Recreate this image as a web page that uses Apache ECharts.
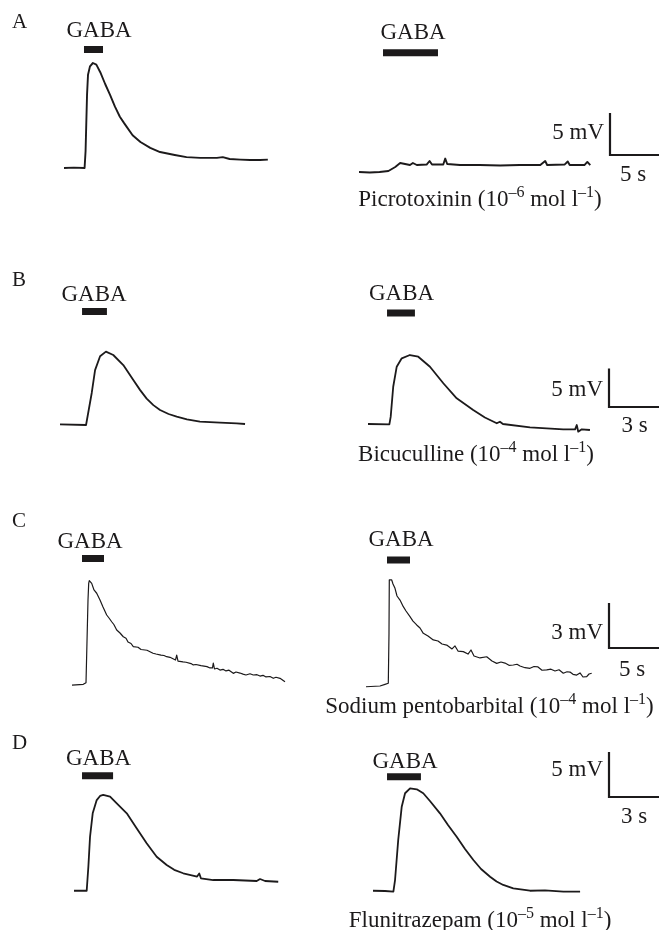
<!DOCTYPE html>
<html><head><meta charset="utf-8">
<script src="https://cdn.jsdelivr.net/npm/echarts@6/dist/echarts.min.js"></script>
<style>html,body{margin:0;padding:0;background:#fff}#c{width:659px;height:930px}</style>
</head><body><div id="c"></div>
<script>
// ---------- DATA (time in s, membrane potential change in mV) ----------
const panelLabels = ['A', 'B', 'C', 'D'];
const drugNames = ['Picrotoxinin', 'Bicuculline', 'Sodium pentobarbital', 'Flunitrazepam'];
const drugExponents = ['–6', '–4', '–4', '–5'];
const scaleBarMV = [5, 5, 3, 5];
const scaleBarS = [5, 3, 5, 3];

// A: control / picrotoxinin
const aCtrlT = [0,1,2.1,2.2,2.35,2.45,2.65,2.95,3.3,3.7,4.2,4.7,5.2,5.7,6.1,6.4,7.0,7.8,8.8,9.8,11.3,12.5,13.9,15.6,16.2,16.4,16.9,18.0,19.0,20.0,20.8];
const aCtrlV = [0,0.05,0,2,8.7,11.1,12.1,12.5,12.3,11.4,10.0,8.7,7.3,6.1,5.4,4.9,3.9,3.1,2.4,1.9,1.55,1.3,1.2,1.2,1.3,1.15,1.07,1.0,0.95,0.95,1.0];
const aDrugT = [0,1.1,2.1,3.0,3.7,4.2,4.7,5.2,5.5,5.9,6.9,7.2,7.45,8.6,8.8,9.0,10.3,12.3,14.4,16.4,18.5,19.0,19.2,21.0,21.3,21.5,23.0,23.3,23.6];
const aDrugV = [0,-0.06,0,0.12,0.6,1.07,0.95,0.83,1.07,0.83,0.89,1.31,0.89,0.89,1.6,0.95,0.83,0.83,0.77,0.83,0.83,1.31,0.83,0.9,1.25,0.83,0.83,1.2,0.83];
const aGabaOn = [2.04, 2.45];
const aGabaOff = [3.98, 8.06];

// B: control / bicuculline
const bCtrlT = [0,1.56,1.63,1.9,2.1,2.4,2.75,3.19,3.79,4.39,4.8,5.19,5.59,5.99,6.5,6.99,7.6,8.38,9.58,10.58,11.08];
const bCtrlV = [-0.04,-0.13,0.09,4.03,7.0,8.8,9.4,8.96,7.66,5.71,4.4,3.3,2.45,1.82,1.3,0.95,0.6,0.3,0.17,0.09,0];
const bDrugT = [0,1.28,1.36,1.51,1.72,2.02,2.51,3.01,3.71,4.51,5.31,6.3,7.0,7.71,7.9,8.08,9.7,11.69,12.4,12.5,12.59,12.8,13.29];
const bDrugV = [0,-0.04,0.95,4.84,7.44,8.53,8.96,8.74,7.44,5.29,3.34,1.82,0.85,0.09,0.3,0,-0.43,-0.69,-0.69,-0.13,-1.0,-0.69,-0.78];
const bGabaOn = [1.32, 1.14];
const bGabaOff = [2.81, 2.81];

// C: control / sodium pentobarbital
const cCtrlT = [0,1.13,1.4,1.53,1.6,1.67,1.73,1.97,2.2,2.47,2.8,3.1,3.47,3.7,3.97,4.2,4.47,4.8,5.13,5.4,5.6,5.9,6.13,6.6,6.9,7.1,7.5,7.8,8.1,8.4,8.9,9.2,9.47,9.8,10.0,10.35,10.47,10.6,11.1,11.4,11.6,11.9,12.13,12.4,12.6,12.9,13.1,13.5,13.8,14.05,14.13,14.25,14.5,14.8,15.1,15.4,15.7,16.13,16.4,16.8,17.1,17.4,17.8,18.13,18.5,18.8,19.1,19.4,19.8,20.13,20.4,20.6,20.8,21.0,21.3];
const cCtrlV = [-0.07,-0.02,0.09,0.15,5.6,6.71,6.89,6.71,6.27,6.05,5.6,5.13,4.6,4.4,4.15,3.95,3.6,3.4,3.15,3.05,2.8,2.7,2.49,2.45,2.3,2.27,2.25,2.15,2.05,2.0,1.93,1.9,1.82,1.78,1.67,1.6,1.93,1.53,1.47,1.45,1.33,1.36,1.27,1.3,1.2,1.22,1.13,1.16,1.07,1.07,1.4,1.0,1.05,0.93,0.98,0.87,0.92,0.71,0.8,0.73,0.66,0.6,0.68,0.6,0.62,0.53,0.58,0.47,0.5,0.38,0.45,0.33,0.38,0.27,0.15];
const cDrugT = [0,1.4,1.9,2.23,2.3,2.33,2.4,2.57,2.7,2.9,3.1,3.4,3.73,4.0,4.4,4.7,5.07,5.4,5.73,6.2,6.73,7.2,7.6,8.07,8.6,8.9,9.2,9.73,10.2,10.5,10.8,11.4,12.07,12.6,13.07,13.5,13.9,14.3,14.73,15.1,15.4,15.9,16.4,16.8,17.2,17.6,18.07,18.5,18.9,19.3,19.73,20.1,20.4,20.7,21.07,21.4,21.7,22.07,22.3,22.57];
const cDrugV = [-0.05,0,0.11,0.18,3.53,7.07,7.18,7.07,6.8,6.51,6.0,5.73,5.29,5.0,4.62,4.33,4.07,3.87,3.51,3.33,3.07,3.0,2.8,2.73,2.47,2.67,2.33,2.29,2.13,2.4,2.0,1.87,1.95,1.67,1.51,1.6,1.53,1.38,1.4,1.45,1.33,1.22,1.18,1.3,1.27,1.05,1.07,1.12,1.0,1.08,0.85,0.95,0.93,0.78,0.73,0.87,0.6,0.62,0.8,0.85];
const cGabaOn = [1.0, 2.1];
const cGabaOff = [3.2, 4.4];

// D: control / flunitrazepam
const dCtrlT = [0,0.76,0.8,0.86,0.96,1.12,1.36,1.56,1.75,2.16,2.56,3.16,3.75,4.35,4.95,5.55,6.0,6.54,7.37,7.5,7.6,8.34,9.54,10.94,11.14,11.24,11.44,12.23];
const dCtrlV = [0.03,0.03,0.11,2.7,6.03,8.63,10.1,10.56,10.67,10.48,9.74,8.63,6.97,5.3,3.81,2.89,2.35,1.97,1.61,1.94,1.41,1.22,1.22,1.11,1.33,1.52,1.11,1.03];
const dDrugT = [0,0.72,1.22,1.32,1.51,1.72,1.92,2.22,2.62,3.01,3.41,4.01,4.49,5.01,5.51,6.01,6.47,7.01,7.4,7.8,8.4,9.4,10.3,11.4,12.4];
const dDrugV = [0.03,0,-0.08,1.22,5.67,9.37,10.86,11.41,11.3,10.86,10.0,8.63,7.33,6.03,4.67,3.44,2.44,1.59,1.05,0.67,0.3,0.03,0.06,-0.08,-0.08];
const dGabaOn = [0.48, 0.84];
const dGabaOff = [2.34, 2.87];

// ---------- LAYOUT (pixels) ----------
const rows = [
  {ctrl:[aCtrlT,aCtrlV], drug:[aDrugT,aDrugV], on:aGabaOn, off:aGabaOff, pxS:9.8, pxMV:8.4, xMax:24,
   x0:[64,359], y0:[168,172], barLvl:[14.1,14.2], lw:1.9,
   scaleXY:[610,155], lab:[12,22], gabaTxt:[[99,31],[413,33]], mvTxt:133, sTxt:[633,174.5], drugTxt:[480,198]},
  {ctrl:[bCtrlT,bCtrlV], drug:[bDrugT,bDrugV], on:bGabaOn, off:bGabaOff, pxS:16.7, pxMV:7.7, xMax:14,
   x0:[60,368], y0:[424,424], barLvl:[14.6,14.4], lw:1.8,
   scaleXY:[609,407], lab:[12,280], gabaTxt:[[94,294.5],[401.5,293.5]], mvTxt:389.5, sTxt:[634.5,425.5], drugTxt:[476,453]},
  {ctrl:[cCtrlT,cCtrlV], drug:[cDrugT,cDrugV], on:cGabaOn, off:cGabaOff, pxS:10, pxMV:15, xMax:23,
   x0:[72,366], y0:[684,686], barLvl:[8.37,8.4], lw:1.2,
   scaleXY:[609,648], lab:[12,521.5], gabaTxt:[[90,541.5],[401,540]], mvTxt:632.5, sTxt:[632,670], drugTxt:[489.5,705]},
  {ctrl:[dCtrlT,dCtrlV], drug:[dDrugT,dDrugV], on:dGabaOn, off:dGabaOff, pxS:16.7, pxMV:9, xMax:13,
   x0:[74,373], y0:[891,891], barLvl:[12.8,12.7], lw:1.8,
   scaleXY:[609,797], lab:[12,743.5], gabaTxt:[[98.5,758.5],[405,761.5]], mvTxt:770, sTxt:[634,816.5], drugTxt:[480,919]}
];

const FONT = '"Liberation Serif","Times New Roman",serif';
const FS = 23;
const INK = '#1c1a1b';
const zip = (t, v) => t.map((x, i) => [x, v[i]]);

const grids = [], xAxes = [], yAxes = [], series = [], graphics = [];
function addGrid(left, top, w, h, xmin, xmax, ymin, ymax) {
  const idx = grids.length;
  grids.push({left, top, width: w, height: h, containLabel: false, show: false});
  xAxes.push({type:'value', gridIndex: idx, min: xmin, max: xmax, show: false});
  yAxes.push({type:'value', gridIndex: idx, min: ymin, max: ymax, show: false});
  return idx;
}

rows.forEach((r, ri) => {
  const YMIN = -3, YMAX = 16, XMAX = r.xMax;
  [r.ctrl, r.drug].forEach((tr, k) => {
    const gi = addGrid(r.x0[k], r.y0[k] - YMAX * r.pxMV, XMAX * r.pxS, (YMAX - YMIN) * r.pxMV, 0, XMAX, YMIN, YMAX);
    series.push({type:'line', xAxisIndex: gi, yAxisIndex: gi, data: zip(tr[0], tr[1]), showSymbol:false, symbol:'none',
      clip:false, animation:false, lineStyle:{color: INK, width: r.lw, join:'round'}});
    series.push({type:'line', xAxisIndex: gi, yAxisIndex: gi, data: [[r.on[k], r.barLvl[k]], [r.off[k], r.barLvl[k]]],
      showSymbol:false, symbol:'none', clip:false, animation:false, lineStyle:{color: INK, width: 7, cap:'butt'}});
    graphics.push({type:'text', x: r.gabaTxt[k][0], y: r.gabaTxt[k][1],
      style:{text:'GABA', font: FS + 'px ' + FONT, fill: INK, align:'center', verticalAlign:'middle'}});
  });
  // scale bar
  const s = scaleBarS[ri], mv = scaleBarMV[ri];
  const gi = addGrid(r.scaleXY[0], r.scaleXY[1] - mv * r.pxMV, s * r.pxS, mv * r.pxMV, 0, s, 0, mv);
  series.push({type:'line', xAxisIndex: gi, yAxisIndex: gi, data: [[0, mv], [0, 0], [s, 0]], showSymbol:false, symbol:'none',
    clip:false, animation:false, lineStyle:{color: INK, width: 2.2, join:'miter'}});
  graphics.push({type:'text', x: r.scaleXY[0] - 6, y: r.mvTxt,
    style:{text: mv + ' mV', font: FS + 'px ' + FONT, fill: INK, align:'right', verticalAlign:'middle'}});
  graphics.push({type:'text', x: r.sTxt[0], y: r.sTxt[1],
    style:{text: s + ' s', font: FS + 'px ' + FONT, fill: INK, align:'center', verticalAlign:'middle'}});
  graphics.push({type:'text', x: r.lab[0], y: r.lab[1],
    style:{text: panelLabels[ri], font: (FS - 2) + 'px ' + FONT, fill: INK, align:'left', verticalAlign:'middle'}});
  graphics.push({type:'text', x: r.drugTxt[0], y: r.drugTxt[1],
    style:{text: '{n|' + drugNames[ri] + ' (10}{s|' + drugExponents[ri] + '}{n| mol l}{s|–1}{n|)}',
      align:'center', verticalAlign:'middle', fill: INK,
      rich:{ n:{fontFamily: FONT, fontSize: FS, lineHeight: 26, verticalAlign:'bottom', fill: INK},
             s:{fontFamily: FONT, fontSize: 16, lineHeight: 16, verticalAlign:'top', fill: INK} }}});
});

const chart = echarts.init(document.getElementById('c'), null, {renderer:'canvas'});
chart.setOption({animation:false, backgroundColor:'#fff', grid: grids, xAxis: xAxes, yAxis: yAxes, series, graphic: graphics});
</script></body></html>
